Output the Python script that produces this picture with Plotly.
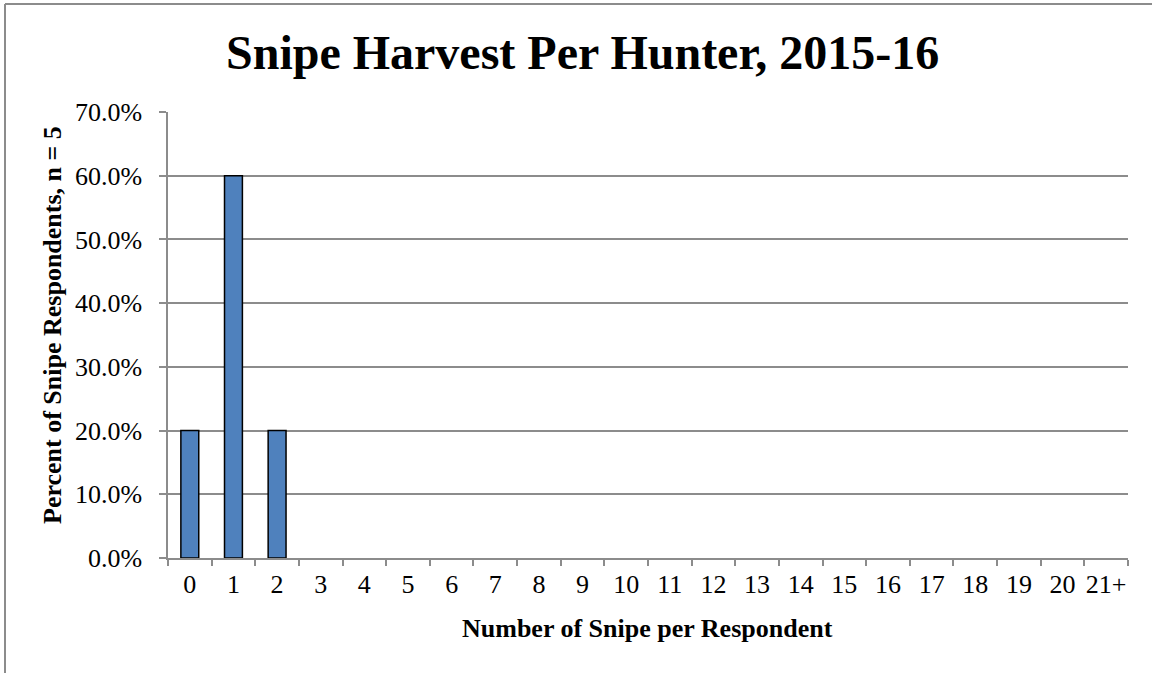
import plotly.graph_objects as go

categories = [str(i) for i in range(21)] + ["21+"]
percents = [0.20, 0.60, 0.20] + [0.0] * 19

title_text = "Snipe Harvest Per Hunter, 2015-16"
x_title = "Number of Snipe per Respondent"
y_title = "Percent of Snipe Respondents, n = 5"

W, H = 1152, 673
L, R, T, B = 168, 1128, 112, 558
pw, ph = R - L, B - T

def px_x(x):
    return (x - L) / pw

def px_y(y):
    return (B - y) / ph

FONT = "Liberation Serif, Times New Roman, serif"
GRAY = "#8c8c8c"

fig = go.Figure()
fig.add_trace(go.Bar(
    x=categories, y=percents,
    marker=dict(color="#4F81BD",
                line=dict(color="#000000",
                          width=[1.5 if v > 0 else 0 for v in percents])),
))

fig.update_layout(
    width=W, height=H,
    margin=dict(l=L, r=W - R, t=T, b=H - B, autoexpand=False),
    paper_bgcolor="white", plot_bgcolor="white",
    bargap=0.59, showlegend=False,
    font=dict(family=FONT, size=26, color="black"),
)
fig.update_xaxes(
    type="category", tickson="boundaries", ticks="outside", ticklen=6,
    tickcolor=GRAY, tickwidth=1.5, showline=True, linecolor=GRAY, linewidth=1.5,
    showgrid=False, tickfont=dict(family=FONT, size=26), tickangle=0,
    ticklabelstandoff=2, automargin=False,
)
fig.update_yaxes(
    range=[0, 0.7], dtick=0.1, tickformat=".1%", ticks="outside", ticklen=7,
    tickcolor=GRAY, tickwidth=1.5, showline=True, linecolor=GRAY, linewidth=1.5,
    showgrid=True, gridcolor=GRAY, gridwidth=1.5, zeroline=False,
    tickfont=dict(family=FONT, size=26), ticklabelstandoff=12, automargin=False,
)

fig.add_annotation(text="<b>" + title_text + "</b>", xref="paper", yref="paper",
                   x=px_x(582), y=px_y(52), xanchor="center", yanchor="middle",
                   showarrow=False, font=dict(family=FONT, size=48, color="black"))
fig.add_annotation(text="<b>" + x_title + "</b>", xref="paper", yref="paper",
                   x=px_x(647), y=px_y(628), xanchor="center", yanchor="middle",
                   showarrow=False, font=dict(family=FONT, size=26, color="black"))
fig.add_annotation(text="<b>" + y_title + "</b>", xref="paper", yref="paper",
                   x=px_x(52), y=px_y(325), xanchor="center", yanchor="middle",
                   textangle=-90, showarrow=False,
                   font=dict(family=FONT, size=26, color="black"))

# chart-area border (top and left visible)
fig.add_shape(type="line", xref="paper", yref="paper",
              x0=px_x(5), x1=px_x(1160), y0=px_y(4), y1=px_y(4),
              line=dict(color=GRAY, width=2))
fig.add_shape(type="line", xref="paper", yref="paper",
              x0=px_x(5), x1=px_x(5), y0=px_y(4), y1=px_y(680),
              line=dict(color=GRAY, width=2))

fig.write_html(
    "out.html",
    config={"displayModeBar": False},
    post_script="document.body.style.margin='0';document.body.style.overflow='hidden';",
)
